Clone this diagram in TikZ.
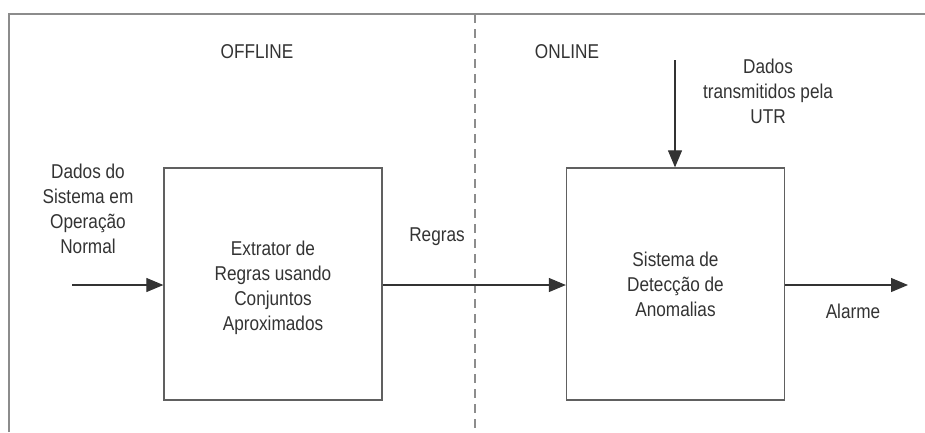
\documentclass[tikz,border=0pt]{standalone}
\usepackage{fontspec}
\setmainfont[FakeStretch=0.86]{Liberation Sans}
\usetikzlibrary{arrows.meta}
\definecolor{framegray}{HTML}{8C8C8C}
\definecolor{boxgray}{HTML}{606060}
\definecolor{inkdark}{HTML}{333333}
\begin{document}
\begin{tikzpicture}[x=1pt,y=-1pt,
  txt/.style={font=\fontsize{20}{25}\selectfont, text=inkdark, align=center, inner sep=0pt},
  blockbox/.style={draw=boxgray, line width=1.3pt, minimum width=218pt, minimum height=232pt, inner sep=0pt},
  flow/.style={draw=inkdark, line width=1.1pt, -{Triangle[length=17pt,width=14pt]}},
  frameline/.style={draw=framegray, line width=2pt},
  divider/.style={draw=framegray, line width=1.3pt, dash pattern=on 9pt off 6pt}]
\useasboundingbox (0,0) rectangle (925,432);
% frame
\coordinate (fbl) at (9,432);
\coordinate (ftl) at (9,14);
\coordinate (ftr) at (925,14);
\draw[frameline] (fbl) -- (ftl) -- (ftr);
\coordinate (dtop) at (475,14);
\coordinate (dbot) at (475,432);
\draw[divider] (dtop) -- (dbot);
% labels
\node[txt] (offline) at (257,52) {OFFLINE};
\node[txt] (online) at (567,52) {ONLINE};
% boxes
\node[blockbox] (ext) at (273,284) {};
\node[txt] (exttxt) at (273,288) {Extrator de\\Regras usando\\Conjuntos\\Aproximados};
\node[blockbox] (det) at (675.5,284) {};
\node[txt] (dettxt) at (675.5,284) {Sistema de\\Detecção de\\Anomalias};
% input
\node[txt] (inp) at (88,209) {Dados do\\Sistema em\\Operação\\Normal};
\coordinate (instart) at (72,285);
\draw[flow] (instart) -- (ext.west |- instart);
% regras
\draw[flow] (ext.east |- instart) -- (det.west |- instart);
\node[txt] (regras) at (437,237) {Regras};
% UTR
\node[txt] (utr) at (768,91) {Dados\\transmitidos pela\\UTR};
\coordinate (utrstart) at (675,60);
\draw[flow] (utrstart) -- (utrstart |- det.north);
% alarme
\coordinate (alend) at (908,285);
\draw[flow] (det.east |- alend) -- (alend);
\node[txt] (alarme) at (853,311) {Alarme};
\end{tikzpicture}
\end{document}
